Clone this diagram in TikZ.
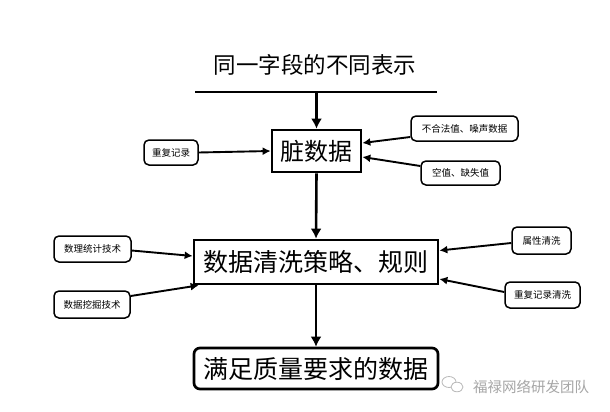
\documentclass[tikz,border=0pt]{standalone}
\usepackage{fontspec}
\newfontfamily\cjk{Noto Sans CJK SC}
\usetikzlibrary{arrows.meta,calc}
\begin{document}
\begin{tikzpicture}[x=1pt,y=-1pt,
  mainbox/.style={draw,line width=2.7pt,inner sep=0pt,font=\cjk\fontsize{24}{28}\selectfont},
  smallbox/.style={draw,line width=1.5pt,rounded corners=5pt,inner sep=0pt,font=\cjk\fontsize{9.5}{11}\selectfont},
  arr/.style={line width=2.6pt,-{Latex[length=10pt,width=11pt]}},
  sarr/.style={line width=1.9pt,-{Latex[length=8pt,width=8pt]}}]
\useasboundingbox (0,0) rectangle (610,412);
\fill[white] (0,0) rectangle (610,412);
% title
\node[font=\cjk\fontsize{22.5}{26}\selectfont] (title) at (315,65) {同一字段的不同表示};
\coordinate (lineL) at (195,92);
\coordinate (lineR) at (437,92);
\coordinate (lineM) at (316.5,92);
\draw[line width=2.8pt] (lineL) -- (lineR);
% boxes
\node[mainbox,minimum width=89pt,minimum height=42pt] (dirty) at (316.5,151) {脏数据};
\node[mainbox,minimum width=244pt,minimum height=44pt,font=\cjk\fontsize{25}{29}\selectfont] (strat) at (316,262) {数据清洗策略、规则};
\node[mainbox,rounded corners=6pt,minimum width=244pt,minimum height=41pt,font=\cjk\fontsize{25}{29}\selectfont] (final) at (316,368.5) {满足质量要求的数据};
% small labels
\node[smallbox,minimum width=54pt,minimum height=25pt] (rep) at (171,152.5) {重复记录};
\node[smallbox,minimum width=107pt,minimum height=25pt] (ill) at (464.5,128.5) {不合法值、噪声数据};
\node[smallbox,minimum width=79pt,minimum height=24pt] (null) at (460.5,173) {空值、缺失值};
\node[smallbox,minimum width=77pt,minimum height=26pt] (stat) at (92.5,249) {数理统计技术};
\node[smallbox,minimum width=76pt,minimum height=27pt] (mine) at (92,304.5) {数据挖掘技术};
\node[smallbox,minimum width=59pt,minimum height=27pt] (attr) at (541.5,240.5) {属性清洗};
\node[smallbox,minimum width=75pt,minimum height=26pt] (dup) at (542.5,295) {重复记录清洗};
% main arrows
\draw[arr] (lineM) -- (dirty.north);
\draw[arr] (dirty.south) -- (strat.north);
\draw[arr] (strat.south) -- (final.north);
% label arrows
\draw[sarr] (rep.east) -- (dirty.west);
\draw[sarr] ([yshift=-8.5pt]ill.west) -- ([yshift=8pt]dirty.east);
\draw[sarr] ([yshift=7pt]null.west) -- ([yshift=-6pt]dirty.east);
\draw[sarr] ([yshift=-1.5pt]stat.east) -- ([yshift=6pt]strat.west);
\draw[sarr] ([yshift=8.5pt]mine.east) -- ([xshift=6pt]strat.south west);
\draw[sarr] ([yshift=-2.5pt]attr.west) -- ([yshift=11.5pt]strat.east);
\draw[sarr] ([yshift=3pt]dup.west) -- ([yshift=-17pt]strat.east);
% watermark
\draw[gray!55,line width=0.8pt] (449,382) ellipse (7pt and 5.5pt);
\draw[gray!55,line width=0.8pt,fill=white] (457,387) ellipse (6pt and 4.8pt);
\node[font=\cjk\fontsize{14.5}{16}\selectfont,text=gray!70] (wm) at (531,387) {福禄网络研发团队};
\end{tikzpicture}
\end{document}
